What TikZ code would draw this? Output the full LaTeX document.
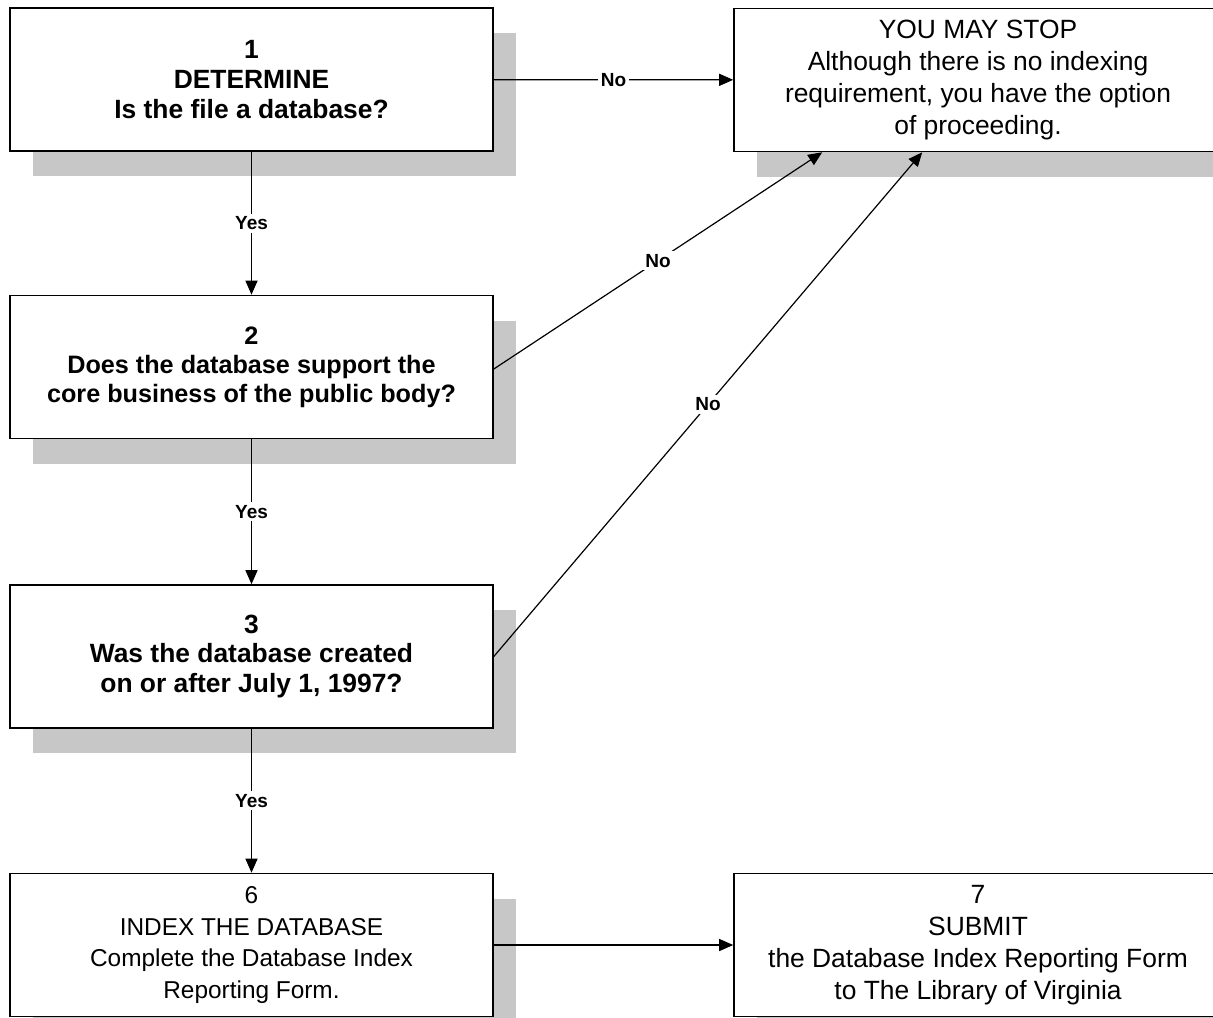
\documentclass[tikz,border=0pt]{standalone}
\usepackage{fontspec}
\setmainfont{Liberation Sans}
\usetikzlibrary{arrows.meta,shadows,calc,positioning}

\tikzset{
  box/.style={draw, line width=0.8pt, fill=white, align=center, inner sep=0pt,
    minimum width=241.5pt, minimum height=71.5pt,
    drop shadow={shadow xshift=11.5pt, shadow yshift=-12.5pt, fill=black!22, opacity=1}},
  qbox/.style={box, font=\bfseries\fontsize{13.2}{14.8}\selectfont},
  tbox/.style={box, minimum width=244pt, font=\fontsize{13.2}{16}\selectfont},
  flow/.style={line width=0.6pt, -{Triangle[length=7pt,width=6pt]}},
  lbl/.style={fill=white, inner sep=1.5pt, font=\bfseries\fontsize{9.5}{10}\selectfont}
}

\begin{document}
\begin{tikzpicture}[x=0.5pt,y=-0.5pt]
\useasboundingbox (0,0) rectangle (1213,1017);

\node[qbox] (q1) at (251.5,79.5) {1\\DETERMINE\\Is the file a database?};
\node[tbox] (stop) at (978,80) {YOU MAY STOP\\Although there is no indexing\\requirement, you have the option\\of proceeding.};
\node[qbox, font=\bfseries\fontsize{12.6}{14.5}\selectfont] (q2) at (251.5,367) {2\\Does the database support the\\core business of the public body?};
\node[qbox] (q3) at (251.5,656.5) {3\\Was the database created\\on or after July 1, 1997?};
\node[tbox, minimum width=241.5pt, font=\fontsize{12.2}{15.8}\selectfont] (idx) at (251.5,945) {6\\INDEX THE DATABASE\\Complete the Database Index\\Reporting Form.};
\node[tbox] (sub) at (978,945) {7\\SUBMIT\\the Database Index Reporting Form\\to The Library of Virginia};

% yes path
\draw[flow] (q1) -- node[lbl] {Yes} (q2);
\draw[flow] (q2) -- node[lbl] {Yes} (q3);
\draw[flow] (q3) -- node[lbl] {Yes} (idx);
\draw[flow] (idx) -- (sub);

% no branches
\draw[flow] (q1) -- node[lbl] {No} (stop);
\draw[flow] ($(q2.east)+(0,2)$) -- node[lbl] {No} ($(stop.south west)+(89,0)$);
\draw[flow] (q3.east) -- node[lbl] {No} ($(stop.south west)+(189,0)$);
\end{tikzpicture}
\end{document}
